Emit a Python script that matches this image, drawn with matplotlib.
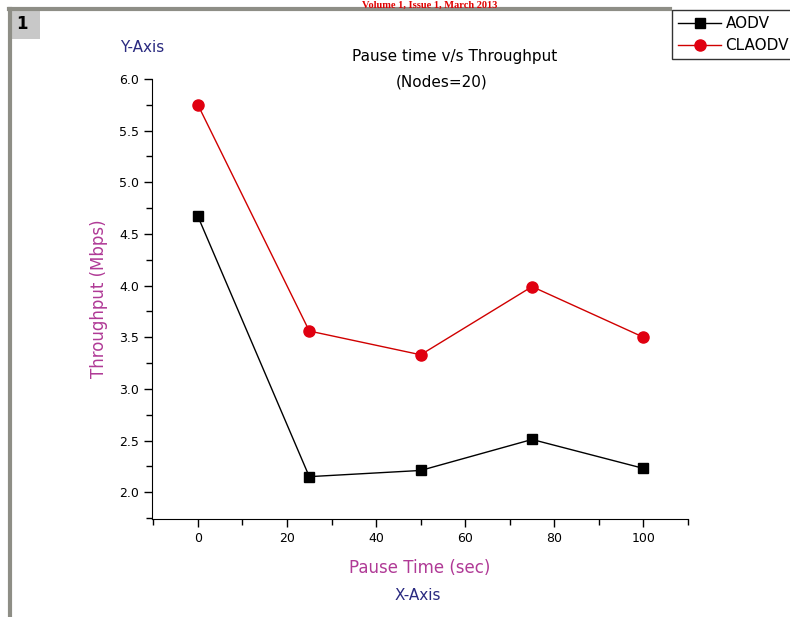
import matplotlib.pyplot as plt
from matplotlib.patches import Rectangle
from matplotlib.ticker import MultipleLocator

pause_time = [0, 25, 50, 75, 100]
aodv = [4.67, 2.15, 2.21, 2.51, 2.23]
claodv = [5.75, 3.56, 3.33, 3.99, 3.50]

W, H = 790, 617
fig = plt.figure(figsize=(W / 100, H / 100), dpi=100)

# page frame around the figure (scanned look)
fig.add_artist(plt.Line2D([9.5 / W, 9.5 / W], [0, 1 - 9 / H], color="#8e8e86", lw=3))
fig.add_artist(plt.Line2D([9 / W, 670 / W], [1 - 9 / H, 1 - 9 / H], color="#8e8e86", lw=3))
fig.add_artist(Rectangle((12 / W, 1 - 39 / H), 28 / W, 28 / H, color="#c8c8c8", lw=0))
fig.text(22 / W, 1 - 24 / H, "1", fontsize=12, fontweight="bold", ha="center", va="center")
fig.text(430 / W, 1 - 0.5 / H, "Volume 1, Issue 1, March 2013", color="#e00000",
         fontsize=7.5, fontweight="bold", family="Liberation Serif", ha="center", va="top")

ax = fig.add_axes([152 / W, 1 - 519 / H, 536 / W, 440 / H])
ax.plot(pause_time, aodv, color="black", lw=1, marker="s", ms=7, label="AODV")
ax.plot(pause_time, claodv, color="#d00000", lw=1, marker="o", ms=8,
        mfc="#e00010", mec="#e00010", label="CLAODV")

ax.set_xlim(-10.3, 110)
ax.set_ylim(1.74, 6.0)
ax.xaxis.set_major_locator(MultipleLocator(20))
ax.xaxis.set_minor_locator(MultipleLocator(10))
ax.yaxis.set_minor_locator(MultipleLocator(0.25))
ax.set_yticks([2.0, 2.5, 3.0, 3.5, 4.0, 4.5, 5.0, 5.5, 6.0])
ax.set_yticklabels(["2.0", "2.5", "3.0", "3.5", "4.0", "4.5", "5.0", "5.5", "6.0"])
ax.tick_params(which="major", direction="out", length=6, width=1, labelsize=9)
ax.tick_params(which="minor", direction="out", length=4, width=1)
ax.spines["top"].set_visible(False)
ax.spines["right"].set_visible(False)

ax.set_ylabel("Throughput (Mbps)", color="#b03a96", fontsize=12, labelpad=8)
ax.set_xlabel("Pause Time (sec)", color="#b03a96", fontsize=12, labelpad=10)
fig.text(142 / W, 1 - 48 / H, "Y-Axis", color="#2a2a80", fontsize=11, ha="center", va="center")
fig.text(418 / W, 1 - 596 / H, "X-Axis", color="#2a2a80", fontsize=11, ha="center", va="center")
fig.text(455 / W, 1 - 57 / H, "Pause time v/s Throughput", fontsize=11, ha="center", va="center")
fig.text(442 / W, 1 - 82 / H, "(Nodes=20)", fontsize=11, ha="center", va="center")

fig.legend(loc="upper left", bbox_to_anchor=(672 / W, 1 - 10 / H), frameon=True,
           fancybox=False, edgecolor="black", fontsize=11, handlelength=2.8,
           borderpad=0.4, labelspacing=0.45, handletextpad=0.3, borderaxespad=0)

fig.savefig("out.png", dpi=100)
